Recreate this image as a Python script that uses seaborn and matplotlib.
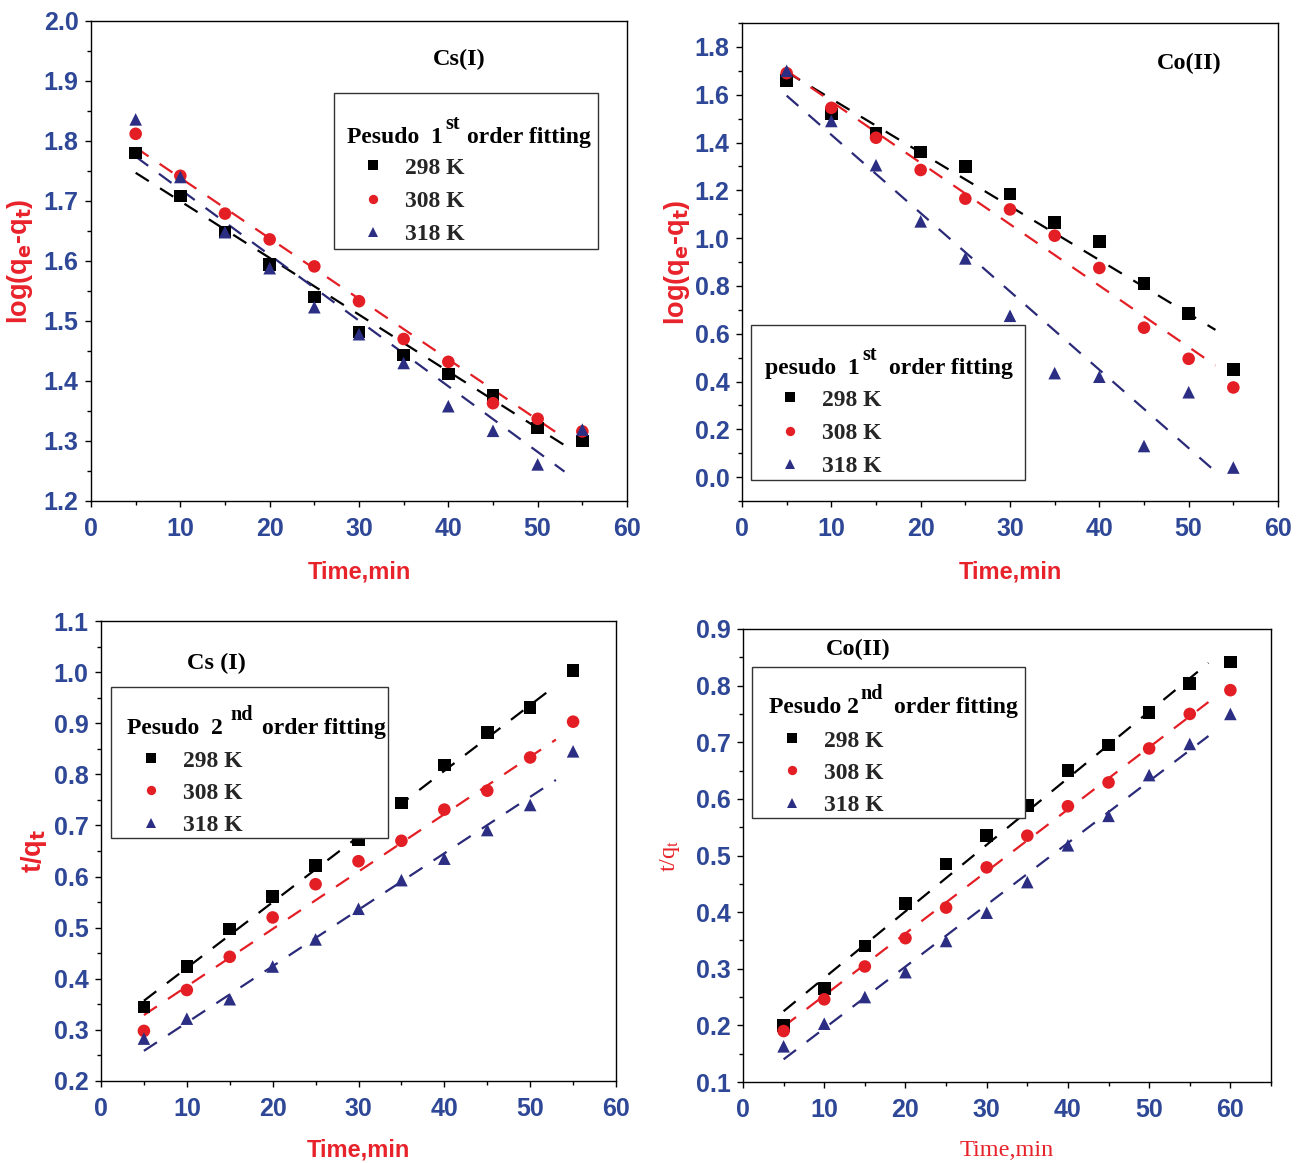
import numpy as np
import pandas as pd
import matplotlib
matplotlib.use("Agg")
import matplotlib.pyplot as plt
from matplotlib.ticker import MultipleLocator, FormatStrFormatter
from matplotlib.font_manager import FontProperties
from matplotlib.patches import Rectangle
import seaborn as sns

# ---------------- data ----------------
temps = ["298 K", "308 K", "318 K"]

# Panel A: Cs(I), pseudo 1st order  log(qe-qt)
t_a = [5, 10, 15, 20, 25, 30, 35, 40, 45, 50, 55]
a_298 = [1.780, 1.708, 1.648, 1.594, 1.540, 1.482, 1.443, 1.412, 1.377, 1.322, 1.300]
a_308 = [1.812, 1.742, 1.679, 1.636, 1.591, 1.533, 1.470, 1.432, 1.363, 1.337, 1.316]
a_318 = [1.836, 1.740, 1.648, 1.588, 1.523, 1.478, 1.430, 1.358, 1.317, 1.261, 1.319]
a_fit_x = [5, 53]
a_fit_298 = [1.747, 1.293]
a_fit_308 = [1.789, 1.305]
a_fit_318 = [1.774, 1.249]

# Panel B: Co(II), pseudo 1st order
t_b = [5, 10, 15, 20, 25, 30, 35, 40, 45, 50, 55]
b_298 = [1.660, 1.520, 1.440, 1.360, 1.300, 1.185, 1.065, 0.985, 0.810, 0.685, 0.450]
b_308 = [1.690, 1.545, 1.420, 1.285, 1.165, 1.120, 1.010, 0.875, 0.625, 0.495, 0.375]
b_318 = [1.700, 1.490, 1.305, 1.070, 0.915, 0.675, 0.435, 0.420, 0.130, 0.355, 0.040]
b_fit_x = [5, 53]
b_fit_298 = [1.695, 0.616]
b_fit_308 = [1.700, 0.467]
b_fit_318 = [1.596, 0.023]

# Panel C: Cs(I), pseudo 2nd order  t/qt
t_c = [5, 10, 15, 20, 25, 30, 35, 40, 45, 50, 55]
c_298 = [0.345, 0.424, 0.497, 0.561, 0.622, 0.673, 0.744, 0.818, 0.882, 0.931, 1.003]
c_308 = [0.298, 0.378, 0.443, 0.520, 0.585, 0.630, 0.670, 0.731, 0.768, 0.833, 0.903]
c_318 = [0.283, 0.322, 0.360, 0.424, 0.477, 0.537, 0.593, 0.635, 0.691, 0.740, 0.845]
c_fit_x = [5, 53]
c_fit_298 = [0.357, 0.974]
c_fit_308 = [0.329, 0.868]
c_fit_318 = [0.259, 0.789]

# Panel D: Co(II), pseudo 2nd order
t_d = [5, 10, 15, 20, 25, 30, 35, 40, 45, 50, 55, 60]
d_298 = [0.200, 0.265, 0.340, 0.415, 0.485, 0.535, 0.588, 0.650, 0.695, 0.753, 0.804, 0.842]
d_308 = [0.190, 0.246, 0.304, 0.354, 0.408, 0.479, 0.535, 0.587, 0.629, 0.689, 0.750, 0.792]
d_318 = [0.163, 0.203, 0.250, 0.294, 0.349, 0.399, 0.453, 0.518, 0.570, 0.642, 0.697, 0.750]
d_fit_x = [5, 57.3]
d_fit_298 = [0.225, 0.840]
d_fit_308 = [0.198, 0.771]
d_fit_318 = [0.140, 0.711]

# ---------------- style ----------------
sns.set_theme(style="ticks")
SANS = ["Liberation Sans", "DejaVu Sans"]
SERIF = ["Liberation Serif", "DejaVu Serif"]
plt.rcParams["font.family"] = SANS

BLACK = "#000000"
RED = "#E31E24"
BLUE = "#2B2E83"
LINE_BLUE = "#2A2A78"
TICK_BLUE = "#2E4796"
LABEL_RED = "#E8222A"

palette = dict(zip(temps, [BLACK, RED, BLUE]))
line_cols = [BLACK, RED, LINE_BLUE]
markers = dict(zip(temps, ["s", "o", "^"]))

W, H = 1301, 1163
fig = plt.figure(figsize=(W / 100, H / 100), dpi=100)


def fx(x):
    return x / W


def fy(y):
    return 1 - y / H


def px_axes(l, r, t, b):
    return fig.add_axes([l / W, 1 - b / H, (r - l) / W, (b - t) / H])


# legend layout (pixels from top-left): box, entries anchor, title pieces
panels = [
    dict(rect=(91, 627, 21, 501), t=t_a, ys=[a_298, a_308, a_318], fx=a_fit_x,
         fits=[a_fit_298, a_fit_308, a_fit_318], xlim=(0, 60), ylim=(1.2, 2.0),
         ymaj=0.1, ymin=0.05, xmaj=10, xmin=5,
         ylabel=r"log(q$_{\mathbf{e}}$-q$_{\mathbf{t}}$)", serif_labels=False,
         box=(334, 93, 598, 249), ent=(341, 157), lsp=0.5,
         pre="Pesudo  1", sup="st", post="order fitting", tx=347, tb=143, sgap=2, px=467,
         note="Cs(I)", note_xy=(459, 59), ylab_x=-0.105, xlab_y=-0.125),
    dict(rect=(742, 1278, 23, 501), t=t_b, ys=[b_298, b_308, b_318], fx=b_fit_x,
         fits=[b_fit_298, b_fit_308, b_fit_318], xlim=(0, 60), ylim=(-0.1, 1.9),
         ymaj=0.2, ymin=0.1, xmaj=10, xmin=5,
         ylabel=r"log(q$_{\mathbf{e}}$-q$_{\mathbf{t}}$)", serif_labels=False,
         box=(751, 325, 1025, 480), ent=(758, 389), lsp=0.5,
         pre="pesudo  1", sup="st", post="order fitting", tx=765, tb=374, sgap=3, px=889,
         note="Co(II)", note_xy=(1189, 63), ylab_x=-0.093, xlab_y=-0.125),
    dict(rect=(101, 616, 621, 1081), t=t_c, ys=[c_298, c_308, c_318], fx=c_fit_x,
         fits=[c_fit_298, c_fit_308, c_fit_318], xlim=(0, 60), ylim=(0.2, 1.1),
         ymaj=0.1, ymin=0.05, xmaj=10, xmin=5,
         ylabel=r"t/q$_{\mathbf{t}}$", serif_labels=False,
         box=(111, 687, 388, 838), ent=(119, 750), lsp=0.45,
         pre="Pesudo  2", sup="nd", post="order fitting", tx=127, tb=734, sgap=8, px=262,
         note="Cs (I)", note_xy=(216, 663), ylab_x=-0.101, xlab_y=-0.126),
    dict(rect=(743, 1271, 629, 1082), t=t_d, ys=[d_298, d_308, d_318], fx=d_fit_x,
         fits=[d_fit_298, d_fit_308, d_fit_318], xlim=(0, 65), ylim=(0.1, 0.9),
         ymaj=0.1, ymin=0.05, xmaj=10, xmin=5,
         ylabel=r"t/q$_{\mathrm{t}}$", serif_labels=True,
         box=(752, 667, 1025, 818), ent=(760, 730), lsp=0.45,
         pre="Pesudo 2", sup="nd", post="order fitting", tx=769, tb=713, sgap=2, px=894,
         note="Co(II)", note_xy=(858, 649), ylab_x=-0.115, xlab_y=-0.128),
]

tick_fp = FontProperties(family=SANS, weight="bold", size=18)
leg_fp = FontProperties(family=SERIF, weight="bold", size=17)
title_fp = FontProperties(family=SERIF, weight="bold", size=17)
sup_fp = FontProperties(family=SERIF, weight="bold", size=14.5)

titles = []
for p in panels:
    ax = px_axes(*p["rect"])
    df = pd.DataFrame({
        "time": list(p["t"]) * 3,
        "value": p["ys"][0] + p["ys"][1] + p["ys"][2],
        "temp": np.repeat(temps, len(p["t"])),
    })
    sns.scatterplot(data=df, x="time", y="value", hue="temp", style="temp",
                    hue_order=temps, style_order=temps, palette=palette,
                    markers=markers, s=82, linewidth=0, ax=ax, zorder=3)
    for fit, col in zip(p["fits"], line_cols):
        ax.plot(p["fx"], fit, color=col, lw=1.6, dashes=(7, 6), zorder=2)

    ax.set_xlim(*p["xlim"])
    ax.set_ylim(*p["ylim"])
    ax.xaxis.set_major_locator(MultipleLocator(p["xmaj"]))
    ax.xaxis.set_minor_locator(MultipleLocator(p["xmin"]))
    ax.yaxis.set_major_locator(MultipleLocator(p["ymaj"]))
    ax.yaxis.set_minor_locator(MultipleLocator(p["ymin"]))
    ax.yaxis.set_major_formatter(FormatStrFormatter("%.1f"))
    ax.tick_params(which="major", direction="out", length=4.5, width=1.0, color="black",
                   labelcolor=TICK_BLUE)
    ax.tick_params(axis="x", which="major", pad=7)
    ax.tick_params(axis="y", which="major", pad=4.5)
    ax.tick_params(which="minor", direction="out", length=3, width=1.0, color="black")
    for lab in ax.get_xticklabels() + ax.get_yticklabels():
        lab.set_fontproperties(tick_fp)
    for s in ax.spines.values():
        s.set_visible(True)
        s.set_color("black")
        s.set_linewidth(1.0)
    ax.set_facecolor("white")

    if p["serif_labels"]:
        xlab_fp = FontProperties(family=SERIF, weight="normal", size=17.5, math_fontfamily="stix")
        ylab_fp = xlab_fp
    else:
        xlab_fp = FontProperties(family=SANS, weight="bold", size=17, math_fontfamily="dejavusans")
        ylab_fp = FontProperties(family=SANS, weight="bold", size=19.5, math_fontfamily="dejavusans")
    ax.set_xlabel("Time,min", fontproperties=xlab_fp, color=LABEL_RED)
    ax.set_ylabel(p["ylabel"], fontproperties=ylab_fp, color=LABEL_RED)
    ax.yaxis.set_label_coords(p["ylab_x"], 0.5)
    ax.xaxis.set_label_coords(0.5, p["xlab_y"])

    # legend box (opaque, drawn over the data)
    x0, y0, x1, y1 = p["box"]
    ax.add_patch(Rectangle((fx(x0), fy(y1)), (x1 - x0) / W, (y1 - y0) / H,
                           transform=fig.transFigure, facecolor="white",
                           edgecolor="#333333", lw=1.0, zorder=4, clip_on=False))

    # legend entries
    old = ax.get_legend()
    handles = old.legend_handles
    labels = [t.get_text() for t in old.get_texts()]
    old.remove()
    ex, ey = p["ent"]
    leg = ax.legend(handles, labels, loc="upper left",
                    bbox_to_anchor=(fx(ex), fy(ey)), bbox_transform=fig.transFigure,
                    prop=leg_fp, frameon=False, borderpad=0, borderaxespad=0,
                    handlelength=2.7, handletextpad=0.0,
                    labelspacing=p["lsp"], markerscale=0.74)
    leg.set_zorder(5)

    # legend heading pieces
    tpre = fig.text(fx(p["tx"]), fy(p["tb"]), p["pre"], ha="left", va="baseline",
                    fontproperties=title_fp, color="black", zorder=6)
    fig.text(fx(p["px"]), fy(p["tb"]), p["post"], ha="left", va="baseline",
             fontproperties=title_fp, color="black", zorder=6)
    titles.append((tpre, p))

    nx, ny = p["note_xy"]
    fig.text(fx(nx), fy(ny), p["note"], ha="center", va="center",
             fontproperties=FontProperties(family=SERIF, weight="bold", size=17.5),
             color="black")

# superscripts ("st", "nd") placed right after the measured heading text
fig.canvas.draw()
renderer = fig.canvas.get_renderer()
for tpre, p in titles:
    w_pre, _, _ = renderer.get_text_width_height_descent(p["pre"], title_fp, ismath=False)
    x = p["tx"] + w_pre + p["sgap"]
    fig.text(fx(x), fy(p["tb"] - 14), p["sup"], ha="left", va="baseline",
             fontproperties=sup_fp, color="black", zorder=6)

fig.savefig("out.png", dpi=100, facecolor="white")
